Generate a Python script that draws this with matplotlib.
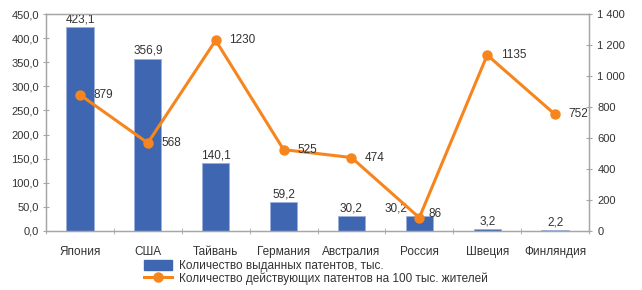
import matplotlib
matplotlib.use("Agg")
import matplotlib.pyplot as plt
from matplotlib.lines import Line2D
from matplotlib.patches import Patch
import numpy as np

plt.rcParams['font.family'] = ['Liberation Sans', 'DejaVu Sans']

countries = ["Япония", "США", "Тайвань", "Германия", "Австралия", "Россия", "Швеция", "Финляндия"]
issued = [423.1, 356.9, 140.1, 59.2, 30.2, 30.2, 3.2, 2.2]
active = [879, 568, 1230, 525, 474, 86, 1135, 752]
issued_labels = ["423,1", "356,9", "140,1", "59,2", "30,2", "30,2", "3,2", "2,2"]
left_ticks = [0, 50, 100, 150, 200, 250, 300, 350, 400, 450]
right_ticks = [0, 200, 400, 600, 800, 1000, 1200, 1400]

bar_color = "#3F67B1"
line_color = "#F7851E"
grey = "#A6A6A6"
txt = "#333333"
fs = 8.5

fig = plt.figure(figsize=(6.42, 2.90), dpi=100)
ax = fig.add_axes([46/642, 1-231/290, (589-46)/642, (231-14)/290])
x = np.arange(len(countries))
ax.bar(x, issued, width=0.4, color=bar_color, edgecolor="#9AB0DC", linewidth=0.6, zorder=2)
ax.set_xlim(-0.5, len(countries)-0.5)
ax.set_ylim(0, 450)
ax.set_yticks(left_ticks)
ax.set_yticklabels([f"{v:.1f}".replace(".", ",") for v in left_ticks])
ax.set_xticks(x)
ax.set_xticklabels(countries)
ax.set_xticks(np.arange(len(countries)+1) - 0.5, minor=True)
ax.tick_params(axis='x', which='major', length=0, pad=11, labelsize=fs, colors=txt)
ax.tick_params(axis='x', which='minor', length=4, color=grey, direction='inout')
ax.tick_params(axis='y', length=4, color=grey, direction='inout', labelsize=8, labelcolor=txt, pad=3)
for s in ['left', 'bottom', 'top', 'right']:
    ax.spines[s].set_color(grey)
    ax.spines[s].set_linewidth(1)

for i, (v, lab) in enumerate(zip(issued, issued_labels)):
    if i == 5:
        ax.text(i - 0.18, v + 4, lab, ha='right', va='bottom', fontsize=fs, color=txt)
    else:
        ax.text(i, v + 4, lab, ha='center', va='bottom', fontsize=fs, color=txt)

ax2 = ax.twinx()
ax2.plot(x, active, color=line_color, linewidth=2.2, marker='o', markersize=6.5, zorder=3)
ax2.set_ylim(0, 1400)
ax2.set_yticks(right_ticks)
ax2.set_yticklabels([f"{v:,}".replace(",", " ") for v in right_ticks])
ax2.tick_params(axis='y', length=4, color=grey, direction='inout', labelsize=8, labelcolor=txt, pad=4)
for s in ['left', 'bottom', 'top', 'right']:
    ax2.spines[s].set_color(grey)
for i, v in enumerate(active):
    if i == 5:
        ax2.text(i + 0.14, v + 25, str(v), ha='left', va='center', fontsize=fs, color=txt)
    else:
        ax2.text(i + 0.2, v, str(v), ha='left', va='center', fontsize=fs, color=txt)

handles = [Patch(facecolor=bar_color, edgecolor=bar_color),
           Line2D([0], [0], color=line_color, linewidth=2.2, marker='o', markersize=6.5)]
labels = ["Количество выданных патентов, тыс.",
          "Количество действующих патентов на 100 тыс. жителей"]
leg = fig.legend(handles, labels, loc='upper left', bbox_to_anchor=(144/642, 1-260/290),
                 frameon=False, fontsize=fs, handlelength=2.4, handleheight=0.9,
                 labelspacing=0.02, borderaxespad=0, borderpad=0, handletextpad=0.6)
for t in leg.get_texts():
    t.set_color(txt)

fig.savefig("out.png", dpi=100)
